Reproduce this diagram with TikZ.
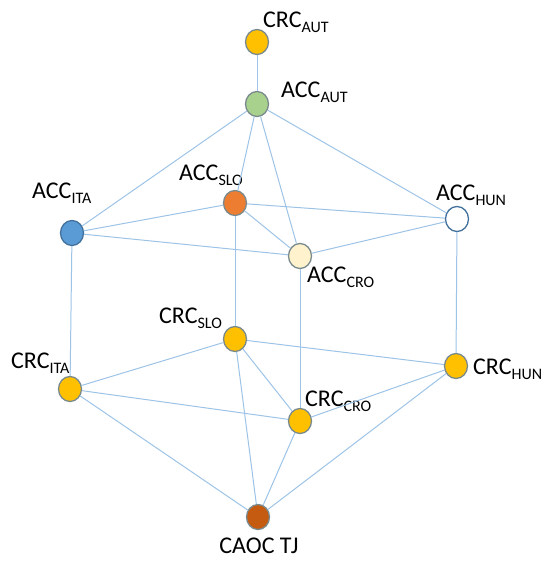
\documentclass[tikz,border=0pt]{standalone}
\usepackage{fontspec}
\setmainfont{Carlito}
\usetikzlibrary{shapes.geometric}

\definecolor{linkblue}{HTML}{9DC3E6}
\definecolor{rimgrey}{HTML}{7A8A8C}
\definecolor{rimblue}{HTML}{41719C}
\definecolor{crcyellow}{HTML}{FFC000}
\definecolor{accgreen}{HTML}{A9D18E}
\definecolor{accorange}{HTML}{ED7D31}
\definecolor{accblue}{HTML}{5B9BD5}
\definecolor{acccream}{HTML}{FFF2CC}
\definecolor{caocrust}{HTML}{C55A11}

% name with a lowered country code
\newcommand{\site}[2]{#1\raisebox{-0.24em}{\fontsize{16}{16}\selectfont #2}}

\begin{document}
\begin{tikzpicture}[x=1pt,y=-1pt,
	stn/.style={ellipse, minimum width=23pt, minimum height=25pt, inner sep=0pt,
		line width=1.3pt, draw=rimgrey},
	link/.style={draw=linkblue, line width=1pt},
	txt/.style={anchor=base west, inner sep=0pt, font=\fontsize{24}{24}\selectfont}]
	\useasboundingbox (0,0) rectangle (545,565);

	% stations
	\node[stn, fill=crcyellow] (crcAUT) at (257,42) {};
	\node[stn, fill=accgreen] (accAUT) at (257,104) {};
	\node[stn, fill=accorange] (accSLO) at (235,203) {};
	\node[stn, fill=accblue, draw=rimblue] (accITA) at (72,233) {};
	\node[stn, fill=acccream] (accCRO) at (300,256) {};
	\node[stn, fill=white, draw=rimblue] (accHUN) at (457,219) {};
	\node[stn, fill=crcyellow] (crcSLO) at (235,339) {};
	\node[stn, fill=crcyellow] (crcITA) at (70,389) {};
	\node[stn, fill=crcyellow] (crcHUN) at (456,366) {};
	\node[stn, fill=crcyellow] (crcCRO) at (300,421) {};
	\node[stn, fill=caocrust] (caoc) at (258,517) {};

	% labels
	\node[txt] (tcrcAUT) at (263,27) {\site{CRC}{AUT}};
	\node[txt] (taccAUT) at (281,97) {\site{ACC}{AUT}};
	\node[txt] (taccSLO) at (179,180) {\site{ACC}{SLO}};
	\node[txt] (taccITA) at (32,198) {\site{ACC}{ITA}};
	\node[txt] (taccHUN) at (436,200) {\site{ACC}{HUN}};
	\node[txt] (taccCRO) at (307,282) {\site{ACC}{CRO}};
	\node[txt] (tcrcSLO) at (159,323) {\site{CRC}{SLO}};
	\node[txt] (tcrcITA) at (11,368) {\site{CRC}{ITA}};
	\node[txt] (tcrcHUN) at (473,374) {\site{CRC}{HUN}};
	\node[txt] (tcrcCRO) at (305,406) {\site{CRC}{CRO}};
	\node[txt, anchor=base] (tcaoc) at (259,553) {CAOC TJ};

	% ACC layer
	\draw[link] (crcAUT) -- (accAUT);
	\draw[link] (accAUT) -- (accITA);
	\draw[link] (accAUT) -- (accSLO);
	\draw[link] (accAUT) -- (accCRO);
	\draw[link] (accAUT) -- (accHUN);
	\draw[link] (accITA) -- (accSLO);
	\draw[link] (accITA) -- (accCRO);
	\draw[link] (accSLO) -- (accCRO);
	\draw[link] (accSLO) -- (accHUN);
	\draw[link] (accCRO) -- (accHUN);

	% ACC down to CRC
	\draw[link] (accITA) -- (crcITA);
	\draw[link] (accSLO) -- (crcSLO);
	\draw[link] (accCRO) -- (crcCRO);
	\draw[link] (accHUN) -- (crcHUN);

	% CRC layer
	\draw[link] (crcITA) -- (crcSLO);
	\draw[link] (crcITA) -- (crcCRO);
	\draw[link] (crcSLO) -- (crcCRO);
	\draw[link] (crcSLO) -- (crcHUN);
	\draw[link] (crcCRO) -- (crcHUN);

	% CRC down to CAOC
	\draw[link] (crcITA) -- (caoc);
	\draw[link] (crcSLO) -- (caoc);
	\draw[link] (crcCRO) -- (caoc);
	\draw[link] (crcHUN) -- (caoc);
\end{tikzpicture}
\end{document}
